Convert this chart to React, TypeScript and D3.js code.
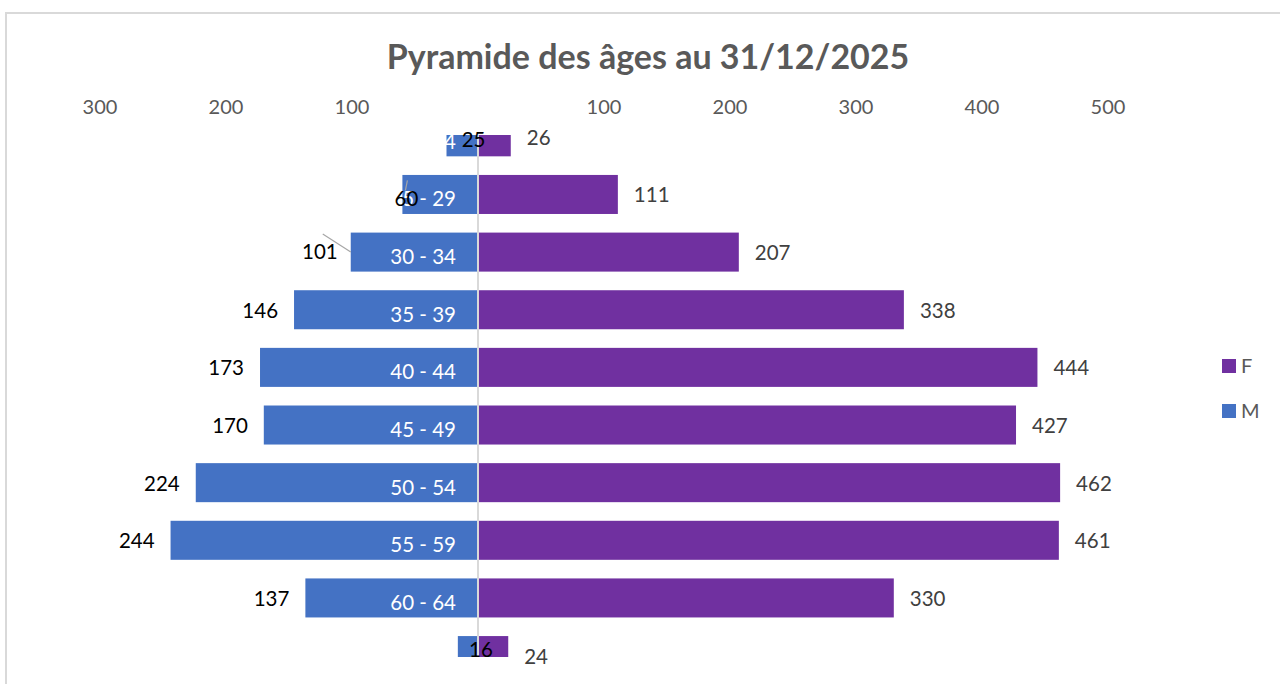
import React from "react";
import * as d3 from "d3";

// age groups, top to bottom
const ageGroups = ["20 - 24", "25 - 29", "30 - 34", "35 - 39", "40 - 44", "45 - 49", "50 - 54", "55 - 59", "60 - 64", "65 - 69"];
const maleCounts = [25, 60, 101, 146, 173, 170, 224, 244, 137, 16];
const femaleCounts = [26, 111, 207, 338, 444, 427, 462, 461, 330, 24];
const tickValues = [-300, -200, -100, 100, 200, 300, 400, 500];

// manual label moves on the small male bars (like the original sheet)
const maleLabelNudge: Record<string, { dx: number; dy: number; leader?: boolean }> = {
  "20 - 24": { dx: 55, dy: 2 },
  "25 - 29": { dx: 32, dy: 4, leader: true },
  "30 - 34": { dx: 3, dy: -1, leader: true },
  "65 - 69": { dx: 51, dy: -7 },
};

const W = 1280;
const H = 684;
const FONT = "Lato, 'Open Sans', sans-serif";
const BLUE = "#4472C4";
const PURPLE = "#7030A0";

const App: React.FC = () => {
  const x = d3.scaleLinear().domain([-300, 500]).range([100, 1108]);
  const y = d3.scaleBand<string>().domain(ageGroups).range([108, 684.4]).paddingInner(0.323).paddingOuter(0.1615);
  const x0 = x(0);
  const bh = y.bandwidth();
  const plotTop = 135;
  const plotBottom = 657;

  return (
    <svg width={W} height={H} style={{ position: "absolute", left: 0, top: 0, fontFamily: FONT }}>
      <defs>
        <clipPath id="plot">
          <rect x={0} y={plotTop} width={W} height={plotBottom - plotTop} />
        </clipPath>
      </defs>
      <rect x={0} y={0} width={W} height={H} fill="#fff" />
      {/* chart frame */}
      <path d={`M6,${H} V13 H${W}`} fill="none" stroke="#d9d9d9" strokeWidth={2} />

      <text x={648} y={69} textAnchor="middle" fontSize={34} fontWeight="bold" fill="#595959">
        Pyramide des âges au 31/12/2025
      </text>

      {/* value axis labels */}
      {tickValues.map((t) => (
        <text key={t} x={x(t)} y={114} textAnchor="middle" fontSize={20} fill="#595959">
          {Math.abs(t)}
        </text>
      ))}

      <g clipPath="url(#plot)">
        {ageGroups.map((g, i) => (
          <g key={g}>
            <rect x={x(-maleCounts[i])} y={y(g)!} width={x0 - x(-maleCounts[i])} height={bh} fill={BLUE} />
            <rect x={x0} y={y(g)!} width={x(femaleCounts[i]) - x0} height={bh} fill={PURPLE} />
          </g>
        ))}
      </g>

      {/* zero line */}
      <line x1={x0} x2={x0} y1={plotTop} y2={plotBottom} stroke="#d9d9d9" strokeWidth={2} />

      {/* category labels */}
      <g clipPath="url(#plot)">
        {ageGroups.map((g) => (
          <text key={g} x={456} y={y(g)! + bh / 2 + 12} textAnchor="end" fontSize={20.5} fill="#fff">
            {g}
          </text>
        ))}
      </g>

      {/* male data labels */}
      {ageGroups.map((g, i) => {
        const n = maleLabelNudge[g] || { dx: 0, dy: 0 };
        const end = x(-maleCounts[i]);
        const cy = y(g)! + bh / 2;
        const lx = end - 16 + n.dx;
        const ly = cy + 8 + n.dy;
        return (
          <g key={g}>
            {n.leader && g === "30 - 34" && (
              <line x1={lx - 15} y1={cy - 18} x2={end} y2={cy} stroke="#a6a6a6" strokeWidth={1.2} />
            )}
            {n.leader && g === "25 - 29" && (
              <line x1={lx - 11} y1={cy - 14} x2={lx - 13} y2={cy - 4} stroke="#a6a6a6" strokeWidth={1.2} />
            )}
            <text x={lx} y={ly} textAnchor="end" fontSize={20.5} fill="#000">
              {maleCounts[i]}
            </text>
          </g>
        );
      })}

      {/* female data labels */}
      {ageGroups.map((g, i) => (
        <text key={g} x={x(femaleCounts[i]) + 16} y={y(g)! + bh / 2 + 8} fontSize={20.5} fill="#404040">
          {femaleCounts[i]}
        </text>
      ))}

      {/* legend */}
      <rect x={1222} y={359} width={14} height={14} fill={PURPLE} />
      <text x={1241} y={373} fontSize={20} fill="#595959">F</text>
      <rect x={1222} y={404} width={14} height={14} fill={BLUE} />
      <text x={1241} y={418} fontSize={20} fill="#595959">M</text>
    </svg>
  );
};

export default App;
